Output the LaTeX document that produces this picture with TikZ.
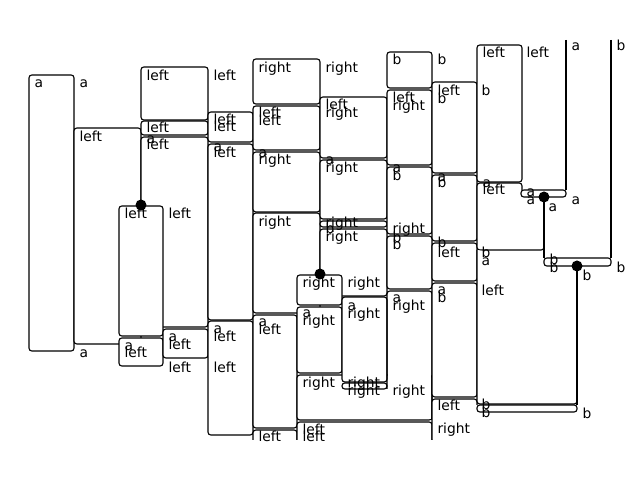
\documentclass[tikz,border=0pt]{standalone}
\usepackage{fontspec}
\setmainfont{DejaVu Sans}
\usepackage{tikz}

\begin{document}
\begin{tikzpicture}[x=0.01in,y=-0.01in,line width=0.8pt,
  box/.style={draw,fill=white,rounded corners=2pt},
  lbl/.style={anchor=base west,inner sep=0pt,font=\fontsize{10}{12}\selectfont},
  spider/.style={fill=black}]
\useasboundingbox (0,0) rectangle (640,480);
\filldraw[box] (29,75) rectangle (74,351);
\filldraw[box] (74,128) rectangle (141,344);
\filldraw[box] (141,67) rectangle (208,120);
\filldraw[box] (141,121) rectangle (208,135);
\filldraw[box] (141,137) rectangle (208,327);
\filldraw[box] (119,206) rectangle (163,336);
\filldraw[box] (119,338) rectangle (163,366);
\filldraw[box] (163,329) rectangle (208,358);
\filldraw[box] (208,112) rectangle (253,142);
\filldraw[box] (208,144) rectangle (253,320);
\filldraw[box] (208,321) rectangle (253,435);
\filldraw[box] (253,59) rectangle (320,104);
\filldraw[box] (253,106) rectangle (320,150);
\filldraw[box] (253,152) rectangle (320,212);
\filldraw[box] (253,213) rectangle (320,313);
\filldraw[box] (253,315) rectangle (297,428);
\filldraw[box] (253,440) -- (253,430) -- (297,430) -- (297,440);
\filldraw[box] (320,97) rectangle (387,158);
\filldraw[box] (320,160) rectangle (387,219);
\filldraw[box] (320,221) rectangle (387,227);
\filldraw[box] (320,229) rectangle (387,296);
\filldraw[box] (297,375) rectangle (432,420);
\filldraw[box] (297,440) -- (297,422) -- (432,422) -- (432,440);
\filldraw[box] (297,275) rectangle (342,305);
\filldraw[box] (297,307) rectangle (342,373);
\filldraw[box] (342,297) rectangle (387,382);
\filldraw[box] (342,383) rectangle (387,389);
\filldraw[box] (387,52) rectangle (432,88);
\filldraw[box] (387,90) rectangle (432,165);
\filldraw[box] (387,167) rectangle (432,234);
\filldraw[box] (387,236) rectangle (432,289);
\fill[white] (388,292) rectangle (431,419);
\draw[rounded corners=2pt] (387,389) -- (387,291) -- (432,291) -- (432,420);
\filldraw[box] (432,82) rectangle (477,173);
\filldraw[box] (432,175) rectangle (477,241);
\filldraw[box] (432,243) rectangle (477,281);
\filldraw[box] (432,283) rectangle (477,397);
\filldraw[box] (432,440) -- (432,399) -- (477,399) -- (477,405);
\filldraw[box] (477,45) rectangle (522,182);
\draw (566,40) -- (566,190);
\draw[rounded corners=2pt] (611,40) -- (611,258);
\filldraw[box] (522,190) -- (522,183) -- (477,183) -- (477,250) -- (544,250) -- (544,197);
\filldraw[box] (477,250) -- (477,404) -- (577,404) -- (577,266);
\filldraw[box] (521,190) rectangle (566,197);
\filldraw[box] (544,258) rectangle (611,266);
\filldraw[box] (477,405) rectangle (577,412);
\draw (544,197) -- (544,258);
\draw (577,266) -- (577,405);
\fill[spider] (141,205) circle (5.5);
\fill[spider] (320,274) circle (5.5);
\fill[spider] (544,197) circle (5.5);
\fill[spider] (577,266) circle (5.5);
% labels
\node[lbl] (l1) at (34,88) {a};
\node[lbl] (l2) at (79,88) {a};
\node[lbl] (l3) at (79,142) {left};
\node[lbl] (l4) at (79,358) {a};
\node[lbl] (l5) at (146,81) {left};
\node[lbl] (l6) at (213,81) {left};
\node[lbl] (l7) at (146,133) {left};
\node[lbl] (l8) at (146,144) {a};
\node[lbl] (l9) at (146,150) {left};
\node[lbl] (l10) at (213,125) {left};
\node[lbl] (l11) at (213,132) {left};
\node[lbl] (l12) at (213,152) {a};
\node[lbl] (l13) at (213,158) {left};
\node[lbl] (l14) at (124,219) {left};
\node[lbl] (l15) at (168,219) {left};
\node[lbl] (l16) at (124,351) {a};
\node[lbl] (l17) at (124,358) {left};
\node[lbl] (l18) at (168,342) {a};
\node[lbl] (l19) at (168,350) {left};
\node[lbl] (l20) at (168,373) {left};
\node[lbl] (l21) at (213,334) {a};
\node[lbl] (l22) at (213,342) {left};
\node[lbl] (l23) at (213,373) {left};
\node[lbl] (l24) at (258,73) {right};
\node[lbl] (l25) at (325,73) {right};
\node[lbl] (l26) at (258,118) {left};
\node[lbl] (l27) at (258,126) {left};
\node[lbl] (l28) at (258,158) {a};
\node[lbl] (l29) at (258,165) {right};
\node[lbl] (l30) at (258,227) {right};
\node[lbl] (l31) at (258,327) {a};
\node[lbl] (l32) at (258,335) {left};
\node[lbl] (l33) at (258,442) {left};
\node[lbl] (l34) at (325,110) {left};
\node[lbl] (l35) at (325,118) {right};
\node[lbl] (l36) at (325,165) {a};
\node[lbl] (l37) at (325,173) {right};
\node[lbl] (l38) at (325,228) {right};
\node[lbl] (l39) at (325,234) {b};
\node[lbl] (l40) at (325,242) {right};
\node[lbl] (l41) at (302,288) {right};
\node[lbl] (l42) at (347,288) {right};
\node[lbl] (l43) at (302,318) {a};
\node[lbl] (l44) at (302,326) {right};
\node[lbl] (l45) at (347,311) {a};
\node[lbl] (l46) at (347,319) {right};
\node[lbl] (l47) at (347,388) {right};
\node[lbl] (l48) at (347,396) {right};
\node[lbl] (l49) at (392,396) {right};
\node[lbl] (l50) at (302,388) {right};
\node[lbl] (l51) at (302,435) {left};
\node[lbl] (l52) at (302,442) {left};
\node[lbl] (l53) at (392,65) {b};
\node[lbl] (l54) at (437,65) {b};
\node[lbl] (l55) at (392,103) {left};
\node[lbl] (l56) at (392,111) {right};
\node[lbl] (l57) at (392,173) {a};
\node[lbl] (l58) at (392,181) {b};
\node[lbl] (l59) at (392,234) {right};
\node[lbl] (l60) at (392,243) {b};
\node[lbl] (l61) at (392,250) {b};
\node[lbl] (l62) at (392,303) {a};
\node[lbl] (l63) at (392,311) {right};
\node[lbl] (l64) at (437,96) {left};
\node[lbl] (l65) at (437,104) {b};
\node[lbl] (l66) at (481,96) {b};
\node[lbl] (l67) at (437,182) {a};
\node[lbl] (l68) at (437,188) {b};
\node[lbl] (l69) at (437,248) {b};
\node[lbl] (l70) at (437,258) {left};
\node[lbl] (l71) at (437,295) {a};
\node[lbl] (l72) at (437,303) {b};
\node[lbl] (l73) at (481,296) {left};
\node[lbl] (l74) at (437,411) {left};
\node[lbl] (l75) at (437,434) {right};
\node[lbl] (l76) at (482,58) {left};
\node[lbl] (l77) at (526,58) {left};
\node[lbl] (l78) at (571,51) {a};
\node[lbl] (l79) at (616,51) {b};
\node[lbl] (l80) at (482,188) {a};
\node[lbl] (l81) at (482,195) {left};
\node[lbl] (l82) at (526,197) {a};
\node[lbl] (l83) at (526,205) {a};
\node[lbl] (l84) at (548,212) {a};
\node[lbl] (l85) at (571,205) {a};
\node[lbl] (l86) at (481,258) {b};
\node[lbl] (l87) at (481,266) {a};
\node[lbl] (l88) at (549,265) {b};
\node[lbl] (l89) at (549,273) {b};
\node[lbl] (l90) at (582,281) {b};
\node[lbl] (l91) at (616,273) {b};
\node[lbl] (l92) at (481,410) {b};
\node[lbl] (l93) at (481,418) {b};
\node[lbl] (l94) at (582,419) {b};
\end{tikzpicture}
\end{document}
